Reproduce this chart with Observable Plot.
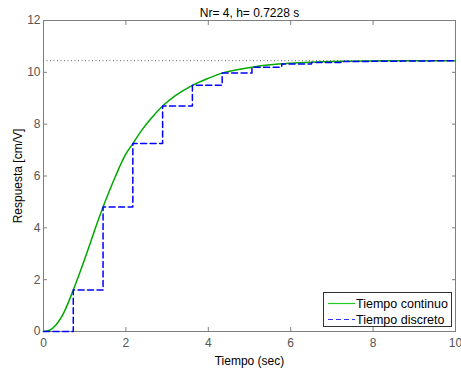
<!DOCTYPE html>
<html>
<head>
<meta charset="utf-8">
<script src="https://cdn.jsdelivr.net/npm/d3@7"></script>
<script src="https://cdn.jsdelivr.net/npm/@observablehq/plot@0.6"></script>
<style>
  body { margin: 0; background: #fff; }
  #chart { position: relative; width: 461px; height: 368px; }
</style>
</head>
<body>
<div id="chart"></div>
<script>
const titleText = "Nr= 4, h= 0.7228 s";
const xLabel = "Tiempo (sec)";
const yLabel = "Respuesta [cm/V]";
const legendNames = ["Tiempo continuo", "Tiempo discreto"];
const h = 0.7228;
const finalValue = 10.45;

const contT = [0, 0.15, 0.3, 0.5, 0.7228, 0.9, 1.1, 1.25, 1.4456, 1.75, 2.0, 2.168, 2.4, 2.6, 2.891, 3.2, 3.614, 4.0, 4.337, 4.7, 5.06, 5.5, 6.0, 6.5, 7.0, 7.5, 8.0, 9.0, 10.0];
const contY = [0, 0.05, 0.25, 0.75, 1.6, 2.35, 3.25, 3.95, 4.8, 6.0, 6.85, 7.25, 7.8, 8.2, 8.7, 9.1, 9.5, 9.77, 9.97, 10.1, 10.2, 10.29, 10.35, 10.39, 10.42, 10.43, 10.44, 10.45, 10.45];

const discY = [0, 1.6, 4.8, 7.25, 8.7, 9.5, 9.97, 10.2, 10.32, 10.38, 10.42, 10.43, 10.44, 10.45];

const xTicks = [0, 2, 4, 6, 8, 10];
const yTicks = [0, 2, 4, 6, 8, 10, 12];

const cont = contT.map((t, i) => ({t, y: contY[i]}));
const disc = discY.map((y, k) => ({t: k * h, y}));
disc.push({t: 10, y: discY[discY.length - 1]});

const axisColor = "#7f7f7f";
const font = "Liberation Sans, Arial, sans-serif";

const plot = Plot.plot({
  width: 461,
  height: 368,
  marginLeft: 43,
  marginRight: 6,
  marginTop: 20,
  marginBottom: 37,
  style: {fontFamily: font, fontSize: "12px", background: "#fff", overflow: "visible"},
  x: {domain: [0, 10]},
  y: {domain: [0, 12]},
  marks: [
    Plot.frame({stroke: axisColor}),
    Plot.axisX({anchor: "bottom", ticks: xTicks, tickSize: -4, tickPadding: 11, stroke: axisColor, color: "#555", fontSize: 12, label: null}),
    Plot.axisX({anchor: "bottom", ticks: [], color: "#000", fontSize: 12, label: xLabel, labelAnchor: "center", labelArrow: "none", labelOffset: 33}),
    Plot.axisX({anchor: "top", ticks: xTicks.slice(1, -1), tickSize: -4, tickFormat: () => "", stroke: axisColor, label: null}),
    Plot.axisY({anchor: "left", ticks: yTicks, tickSize: -4, tickPadding: 7, stroke: axisColor, color: "#555", fontSize: 12, label: null}),
    Plot.axisY({anchor: "left", ticks: [], color: "#000", fontSize: 12, label: yLabel, labelAnchor: "center", labelArrow: "none", labelOffset: 30}),
    Plot.axisY({anchor: "right", ticks: yTicks.slice(1, -1), tickSize: -4, tickFormat: () => "", stroke: axisColor, label: null}),
    Plot.ruleY([finalValue], {stroke: "#666", strokeDasharray: "1,2.5", strokeWidth: 1}),
    Plot.line(cont, {x: "t", y: "y", stroke: "#00a800", strokeWidth: 1.5, curve: "monotone-x"}),
    Plot.line(disc, {x: "t", y: "y", stroke: "#0000ff", strokeWidth: 1.5, strokeDasharray: "6,3.5", curve: "step-after"}),
    Plot.text([titleText], {frameAnchor: "top", dy: -12, fill: "#000", fontSize: 12})
  ]
});

document.getElementById("chart").appendChild(plot);

// Legend (fixed pixel box in bottom-right of plot)
const svg = d3.select(plot);
const lg = svg.append("g").attr("font-family", font).attr("font-size", 12.5).attr("text-anchor", "start");
lg.append("rect").attr("x", 323.5).attr("y", 292.5).attr("width", 128).attr("height", 34)
  .style("fill", "#fff").style("stroke", "#333").style("stroke-width", 1);
lg.append("line").attr("x1", 328).attr("x2", 355).attr("y1", 303.5).attr("y2", 303.5)
  .style("stroke", "#22cc22").style("stroke-width", 1.2);
lg.append("line").attr("x1", 328).attr("x2", 355).attr("y1", 319.5).attr("y2", 319.5)
  .style("stroke", "#3333ff").style("stroke-width", 1.2).style("stroke-dasharray", "5,3");
lg.append("text").attr("x", 356).attr("y", 307.5).style("fill", "#000").text(legendNames[0]);
lg.append("text").attr("x", 356).attr("y", 323.5).style("fill", "#000").text(legendNames[1]);
</script>
</body>
</html>
